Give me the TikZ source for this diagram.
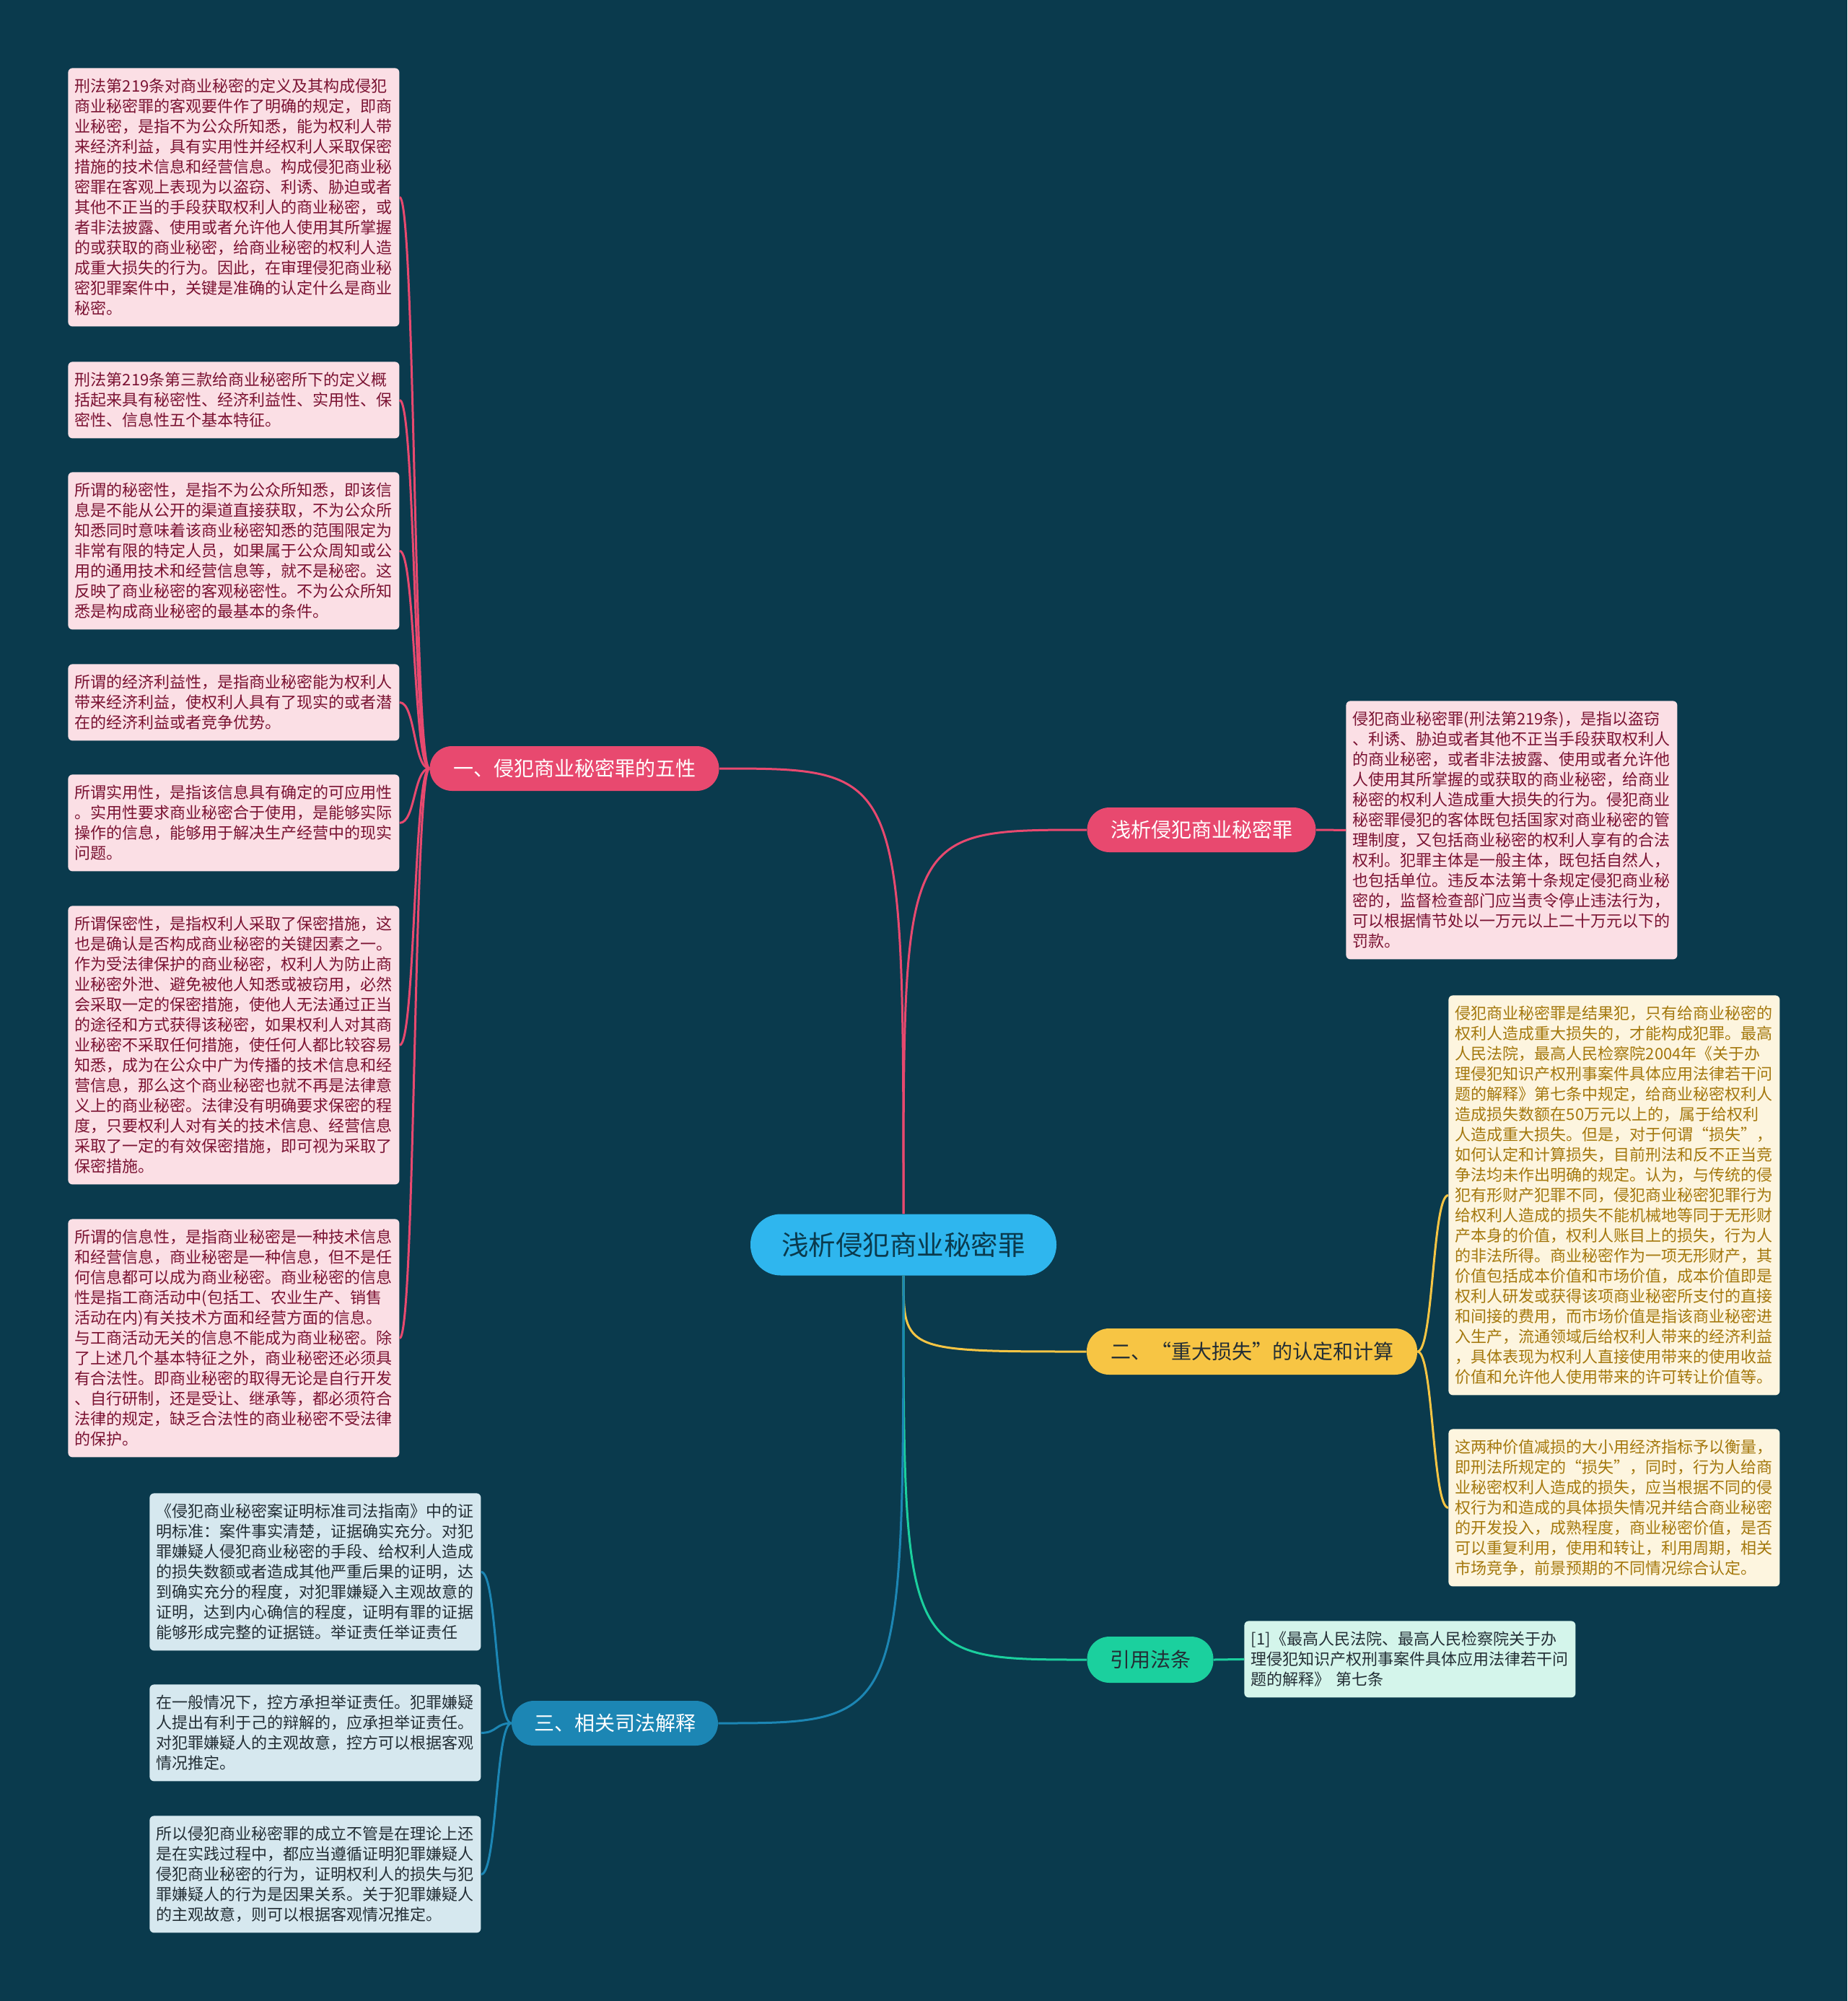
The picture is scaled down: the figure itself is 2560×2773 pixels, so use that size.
\documentclass[tikz,border=0pt]{standalone}
\usepackage{fontspec}
\setmainfont{Noto Sans CJK SC}
\definecolor{bg}{HTML}{0A3A4D}
\definecolor{pinkc}{HTML}{E8496F}
\definecolor{yellowc}{HTML}{F7C544}
\definecolor{greenc}{HTML}{1BD09E}
\definecolor{bluec}{HTML}{1C86B4}
\definecolor{centerc}{HTML}{2FB6EE}
\definecolor{pinkfill}{HTML}{FBDFE5}
\definecolor{pinktext}{HTML}{7A1232}
\definecolor{yellowfill}{HTML}{FDF5DF}
\definecolor{yellowtext}{HTML}{A4780D}
\definecolor{bluefill}{HTML}{D6E8EF}
\definecolor{darktext}{HTML}{232E35}
\definecolor{mintfill}{HTML}{D4F5EB}
\tikzset{
  leafbase/.style={font=\fontsize{11pt}{14pt}\selectfont, align=left, text width=220pt,
    inner xsep=4.75pt, inner ysep=0pt, rounded corners=3pt, anchor=north west},
  pinkleaf/.style={leafbase, fill=pinkfill, text=pinktext},
  yellowleaf/.style={leafbase, fill=yellowfill, text=yellowtext},
  blueleaf/.style={leafbase, fill=bluefill, text=darktext},
  mintleaf/.style={leafbase, fill=mintfill, text=darktext},
  branchbox/.style={font=\fontsize{14pt}{16pt}\selectfont, minimum height=31pt, inner sep=0pt, rounded corners=15.5pt},
  centerbox/.style={font=\fontsize{18.75pt}{22pt}\selectfont, fill=centerc, text=bg, minimum width=212pt, minimum height=42.5pt, inner sep=0pt, rounded corners=21pt},
  conn/.style={line width=1.5pt},
}
\begin{document}
\begin{tikzpicture}[x=0.5pt,y=-0.5pt]
\fill[bg] (0,0) rectangle (2560,2773);
\useasboundingbox (0,0) rectangle (2560,2773);

% center and branches
\node[centerbox] (c) at (1252,1725) {浅析侵犯商业秘密罪};
\node[branchbox, fill=pinkc, text=white, minimum width=200.5pt] (b1) at (796,1065) {一、侵犯商业秘密罪的五性};
\node[branchbox, fill=pinkc, text=white, minimum width=158.5pt] (b2) at (1665,1150) {浅析侵犯商业秘密罪};
\node[branchbox, fill=yellowc, text=darktext, minimum width=229pt, minimum height=32pt] (b3) at (1735,1873) {二、“重大损失”的认定和计算};
\node[branchbox, fill=greenc, text=darktext, minimum width=87.5pt, minimum height=32pt] (b4) at (1594,2300) {引用法条};
\node[branchbox, fill=bluec, text=white, minimum width=143pt] (b5) at (852,2388) {三、相关司法解释};

% left pink leaves
\node[pinkleaf, minimum height=179pt] (l1) at (94,94) {刑法第219条对商业秘密的定义及其构成侵犯\\商业秘密罪的客观要件作了明确的规定，即商\\业秘密，是指不为公众所知悉，能为权利人带\\来经济利益，具有实用性并经权利人采取保密\\措施的技术信息和经营信息。构成侵犯商业秘\\密罪在客观上表现为以盗窃、利诱、胁迫或者\\其他不正当的手段获取权利人的商业秘密，或\\者非法披露、使用或者允许他人使用其所掌握\\的或获取的商业秘密，给商业秘密的权利人造\\成重大损失的行为。因此，在审理侵犯商业秘\\密犯罪案件中，关键是准确的认定什么是商业\\秘密。};
\node[pinkleaf, minimum height=53pt] (l2) at (94,501) {刑法第219条第三款给商业秘密所下的定义概\\括起来具有秘密性、经济利益性、实用性、保\\密性、信息性五个基本特征。};
\node[pinkleaf, minimum height=109pt] (l3) at (94,654) {所谓的秘密性，是指不为公众所知悉，即该信\\息是不能从公开的渠道直接获取，不为公众所\\知悉同时意味着该商业秘密知悉的范围限定为\\非常有限的特定人员，如果属于公众周知或公\\用的通用技术和经营信息等，就不是秘密。这\\反映了商业秘密的客观秘密性。不为公众所知\\悉是构成商业秘密的最基本的条件。};
\node[pinkleaf, minimum height=53pt] (l4) at (94,920) {所谓的经济利益性，是指商业秘密能为权利人\\带来经济利益，使权利人具有了现实的或者潜\\在的经济利益或者竞争优势。};
\node[pinkleaf, minimum height=67pt] (l5) at (94,1073) {所谓实用性，是指该信息具有确定的可应用性\\。实用性要求商业秘密合于使用，是能够实际\\操作的信息，能够用于解决生产经营中的现实\\问题。};
\node[pinkleaf, minimum height=193pt] (l6) at (94,1255) {所谓保密性，是指权利人采取了保密措施，这\\也是确认是否构成商业秘密的关键因素之一。\\作为受法律保护的商业秘密，权利人为防止商\\业秘密外泄、避免被他人知悉或被窃用，必然\\会采取一定的保密措施，使他人无法通过正当\\的途径和方式获得该秘密，如果权利人对其商\\业秘密不采取任何措施，使任何人都比较容易\\知悉，成为在公众中广为传播的技术信息和经\\营信息，那么这个商业秘密也就不再是法律意\\义上的商业秘密。法律没有明确要求保密的程\\度，只要权利人对有关的技术信息、经营信息\\采取了一定的有效保密措施，即可视为采取了\\保密措施。};
\node[pinkleaf, minimum height=165pt] (l7) at (94,1689) {所谓的信息性，是指商业秘密是一种技术信息\\和经营信息，商业秘密是一种信息，但不是任\\何信息都可以成为商业秘密。商业秘密的信息\\性是指工商活动中(包括工、农业生产、销售\\活动在内)有关技术方面和经营方面的信息。\\与工商活动无关的信息不能成为商业秘密。除\\了上述几个基本特征之外，商业秘密还必须具\\有合法性。即商业秘密的取得无论是自行开发\\、自行研制，还是受让、继承等，都必须符合\\法律的规定，缺乏合法性的商业秘密不受法律\\的保护。};

% right pink leaf
\node[pinkleaf, minimum height=179pt] (r1) at (1865,971) {侵犯商业秘密罪(刑法第219条)，是指以盗窃\\、利诱、胁迫或者其他不正当手段获取权利人\\的商业秘密，或者非法披露、使用或者允许他\\人使用其所掌握的或获取的商业秘密，给商业\\秘密的权利人造成重大损失的行为。侵犯商业\\秘密罪侵犯的客体既包括国家对商业秘密的管\\理制度，又包括商业秘密的权利人享有的合法\\权利。犯罪主体是一般主体，既包括自然人，\\也包括单位。违反本法第十条规定侵犯商业秘\\密的，监督检查部门应当责令停止违法行为，\\可以根据情节处以一万元以上二十万元以下的\\罚款。};

% yellow leaves
\node[yellowleaf, minimum height=277pt] (y1) at (2007,1379) {侵犯商业秘密罪是结果犯，只有给商业秘密的\\权利人造成重大损失的，才能构成犯罪。最高\\人民法院，最高人民检察院2004年《关于办\\理侵犯知识产权刑事案件具体应用法律若干问\\题的解释》第七条中规定，给商业秘密权利人\\造成损失数额在50万元以上的，属于给权利\\人造成重大损失。但是，对于何谓“损失”，\\如何认定和计算损失，目前刑法和反不正当竞\\争法均未作出明确的规定。认为，与传统的侵\\犯有形财产犯罪不同，侵犯商业秘密犯罪行为\\给权利人造成的损失不能机械地等同于无形财\\产本身的价值，权利人账目上的损失，行为人\\的非法所得。商业秘密作为一项无形财产，其\\价值包括成本价值和市场价值，成本价值即是\\权利人研发或获得该项商业秘密所支付的直接\\和间接的费用，而市场价值是指该商业秘密进\\入生产，流通领域后给权利人带来的经济利益\\，具体表现为权利人直接使用带来的使用收益\\价值和允许他人使用带来的许可转让价值等。};
\node[yellowleaf, minimum height=109pt] (y2) at (2007,1980) {这两种价值减损的大小用经济指标予以衡量，\\即刑法所规定的“损失”，同时，行为人给商\\业秘密权利人造成的损失，应当根据不同的侵\\权行为和造成的具体损失情况并结合商业秘密\\的开发投入，成熟程度，商业秘密价值，是否\\可以重复利用，使用和转让，利用周期，相关\\市场竞争，前景预期的不同情况综合认定。};

% citation
\node[mintleaf, minimum height=53pt] (ct) at (1724,2246) {[1]《最高人民法院、最高人民检察院关于办\\理侵犯知识产权刑事案件具体应用法律若干问\\题的解释》 第七条};

% bottom-left blue leaves
\node[blueleaf, minimum height=109pt] (q1) at (207,2069) {《侵犯商业秘密案证明标准司法指南》中的证\\明标准：案件事实清楚，证据确实充分。对犯\\罪嫌疑人侵犯商业秘密的手段、给权利人造成\\的损失数额或者造成其他严重后果的证明，达\\到确实充分的程度，对犯罪嫌疑入主观故意的\\证明，达到内心确信的程度，证明有罪的证据\\能够形成完整的证据链。举证责任举证责任};
\node[blueleaf, minimum height=67pt] (q2) at (207,2334) {在一般情况下，控方承担举证责任。犯罪嫌疑\\人提出有利于己的辩解的，应承担举证责任。\\对犯罪嫌疑人的主观故意，控方可以根据客观\\情况推定。};
\node[blueleaf, minimum height=81pt] (q3) at (207,2516) {所以侵犯商业秘密罪的成立不管是在理论上还\\是在实践过程中，都应当遵循证明犯罪嫌疑人\\侵犯商业秘密的行为，证明权利人的损失与犯\\罪嫌疑人的行为是因果关系。关于犯罪嫌疑人\\的主观故意，则可以根据客观情况推定。};

% connectors: center to branches
\draw[conn, pinkc] (c.north) .. controls (c.north |- b1.east) .. (b1.east);
\draw[conn, pinkc] (c.north) .. controls (c.north |- b2.west) .. (b2.west);
\draw[conn, yellowc] (c.south) .. controls (c.south |- b3.west) .. (b3.west);
\draw[conn, greenc] (c.south) .. controls (c.south |- b4.west) .. (b4.west);
\draw[conn, bluec] (c.south) .. controls (c.south |- b5.east) .. (b5.east);

% branch 1 to leaves
\foreach \n in {l1,l2,l3,l4,l5,l6,l7}
  \draw[conn, pinkc] (b1.west) .. controls +(-22,0) and +(22,0) .. (\n.east);
% branch 2
\draw[conn, pinkc] (b2.east) -- (r1.west);
% branch 3
\foreach \n in {y1,y2}
  \draw[conn, yellowc] (b3.east) .. controls +(22,0) and +(-22,0) .. (\n.west);
% branch 4
\draw[conn, greenc] (b4.east) -- (ct.west);
% branch 5
\foreach \n in {q1,q2,q3}
  \draw[conn, bluec] (b5.west) .. controls +(-22,0) and +(22,0) .. (\n.east);
\end{tikzpicture}
\end{document}
